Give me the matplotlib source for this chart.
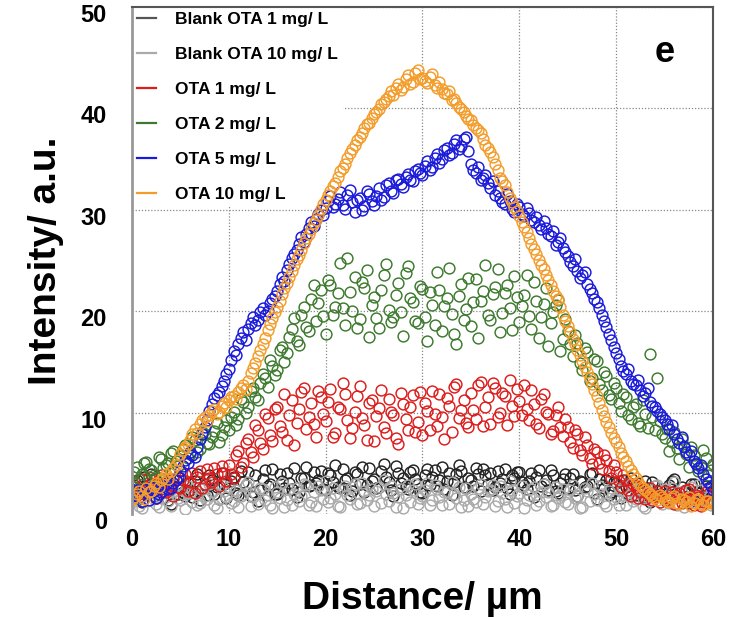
import numpy as np
import matplotlib
matplotlib.use('Agg')
import matplotlib.pyplot as plt
import matplotlib.transforms as mtransforms
from matplotlib.lines import Line2D

plt.rcParams['font.family'] = ['Liberation Sans', 'DejaVu Sans']
plt.rcParams['font.weight'] = 'bold'

# distance along the line profile (um): two interleaved sample sets
distance_a = np.arange(0, 60.5, 0.5)
distance_b = np.arange(0.25, 60, 0.5)

blank_1_a = [
    2.1, 3.4, 1.2, 2.8, 3.9, 1.6, 2.5, 3.1, 1.0, 2.7,
    3.6, 1.8, 2.4, 3.3, 1.4, 2.9, 3.8, 2.0, 1.5, 3.0,
    2.6, 3.7, 1.9, 3.2, 4.1, 2.2, 1.3, 3.5, 2.8, 4.4,
    2.0, 3.3, 4.0, 2.5, 1.7, 3.6, 4.6, 2.9, 3.1, 4.2,
    2.4, 3.8, 4.8, 2.6, 3.4, 1.9, 4.1, 3.0, 2.2, 4.5,
    3.5, 2.7, 4.9, 3.2, 1.8, 4.0, 3.6, 2.5, 4.3, 3.0,
    2.1, 4.4, 3.7, 2.8, 4.6, 3.3, 1.9, 3.9, 4.2, 2.6,
    3.4, 4.5, 2.3, 3.8, 4.0, 2.7, 3.1, 4.4, 2.0, 3.6,
    4.1, 2.9, 3.3, 1.7, 4.3, 3.0, 2.4, 3.8, 2.1, 3.5,
    2.6, 3.9, 1.8, 3.2, 2.8, 4.0, 1.5, 2.9, 3.4, 2.2,
    3.1, 1.6, 2.7, 3.6, 1.9, 2.4, 3.3, 1.2, 2.8, 2.0,
    1.4, 2.9, 3.5, 1.7, 2.3, 1.1, 3.0, 2.1, 1.6, 2.6,
    1.3]
blank_1_b = [
    2.9, 1.5, 3.7, 2.3, 1.8, 3.2, 2.6, 1.4, 3.5, 2.0,
    2.2, 3.1, 1.7, 3.9, 2.5, 1.9, 3.4, 2.7, 4.0, 1.6,
    3.3, 2.1, 4.2, 2.9, 1.8, 3.8, 2.4, 4.3, 3.0, 2.0,
    3.9, 2.6, 3.1, 4.5, 2.2, 3.6, 2.8, 4.1, 3.4, 2.5,
    4.0, 3.2, 2.7, 4.4, 3.6, 2.3, 3.9, 4.6, 2.9, 3.3,
    2.6, 4.2, 3.7, 2.4, 4.7, 3.1, 2.8, 4.1, 3.5, 2.2,
    3.8, 2.9, 4.3, 3.4, 2.5, 4.0, 3.2, 4.8, 2.7, 3.6,
    2.8, 3.9, 4.4, 3.0, 2.4, 4.2, 3.5, 2.6, 3.8, 4.1,
    3.2, 2.5, 4.0, 3.7, 2.8, 3.4, 4.3, 2.3, 3.1, 3.9,
    3.6, 2.4, 3.3, 2.7, 3.9, 2.1, 3.5, 2.6, 1.9, 3.2,
    2.4, 3.4, 2.0, 2.9, 3.1, 1.7, 2.6, 3.2, 1.8, 2.5,
    2.1, 3.3, 1.9, 2.7, 1.5, 3.0, 2.2, 1.4, 2.8, 1.9]

blank_10_a = [
    1.2, 2.4, 0.6, 1.9, 2.8, 1.0, 1.6, 2.2, 0.8, 2.9,
    1.4, 0.5, 2.1, 2.6, 1.1, 1.8, 3.0, 0.9, 1.5, 2.3,
    2.7, 1.3, 0.7, 2.0, 3.2, 1.7, 1.0, 2.5, 1.9, 0.6,
    2.2, 3.1, 1.4, 0.9, 2.6, 1.8, 2.9, 1.2, 0.8, 2.4,
    3.3, 1.6, 2.0, 0.7, 2.8, 1.5, 3.0, 1.1, 2.3, 1.9,
    0.8, 2.7, 3.4, 1.3, 2.1, 1.7, 0.6, 2.9, 2.4, 1.0,
    1.8, 3.1, 1.4, 2.5, 0.9, 2.2, 3.2, 1.6, 0.7, 2.6,
    2.0, 1.2, 3.0, 1.7, 2.4, 0.8, 2.8, 1.5, 3.3, 1.1,
    2.1, 0.6, 1.9, 2.7, 1.3, 3.0, 2.2, 0.9, 1.6, 2.5,
    1.0, 2.9, 1.8, 0.7, 2.3, 3.1, 1.4, 2.0, 0.8, 2.6,
    1.7, 2.4, 0.9, 3.0, 1.5, 2.2, 0.6, 1.9, 2.8, 1.2,
    2.5, 1.1, 3.2, 1.8, 0.7, 2.3, 1.6, 2.9, 1.0, 2.0,
    1.4]
blank_10_b = [
    1.9, 0.8, 2.6, 1.4, 2.1, 0.7, 2.7, 1.3, 2.3, 1.6,
    2.0, 2.8, 1.2, 0.9, 2.5, 1.5, 2.2, 0.6, 2.9, 1.7,
    1.1, 2.4, 1.8, 2.9, 0.8, 2.1, 2.6, 1.4, 0.9, 2.7,
    1.6, 0.7, 2.5, 2.0, 1.3, 3.0, 0.9, 2.2, 2.8, 1.5,
    1.2, 2.6, 0.8, 2.4, 1.9, 2.7, 1.0, 3.1, 1.4, 2.5,
    2.3, 1.1, 2.0, 2.8, 0.7, 2.5, 1.9, 1.2, 3.0, 1.6,
    2.4, 0.9, 2.9, 1.7, 2.2, 1.0, 2.0, 2.7, 1.4, 0.8,
    1.5, 2.6, 1.0, 2.3, 2.9, 1.3, 2.1, 0.7, 2.4, 1.8,
    2.8, 1.4, 2.5, 0.9, 2.2, 1.7, 0.8, 2.7, 1.9, 1.2,
    2.4, 1.6, 0.6, 2.6, 1.3, 2.0, 2.8, 1.1, 2.3, 1.5,
    0.9, 2.7, 1.8, 1.3, 2.5, 0.8, 2.1, 1.6, 2.9, 1.0,
    1.8, 2.6, 0.9, 2.2, 1.4, 2.7, 1.1, 2.4, 1.7, 0.9]

ota_1_a = [
    2.8, 1.9, 3.5, 2.4, 3.1, 1.6, 3.8, 2.2, 2.9, 3.4,
    2.6, 3.9, 3.2, 2.1, 4.2, 3.0, 3.6, 4.5, 2.8, 4.0,
    4.8, 3.6, 6.2, 5.0, 7.4, 5.6, 8.3, 6.4, 9.5, 7.2,
    10.6, 8.1, 7.3, 11.2, 9.0, 12.0, 8.4, 10.9, 7.6, 11.5,
    9.2, 12.3, 8.0, 10.4, 11.8, 7.5, 10.1, 12.6, 8.8, 10.9,
    7.2, 10.5, 8.6, 11.3, 9.8, 6.9, 10.8, 8.3, 11.7, 9.1,
    7.8, 10.2, 12.1, 8.7, 9.6, 11.4, 8.1, 12.8, 10.3, 9.0,
    11.9, 9.4, 13.0, 10.6, 8.9, 12.4, 10.0, 11.6, 13.2, 9.7,
    11.1, 12.7, 9.3, 10.8, 8.5, 11.8, 9.9, 8.2, 10.6, 7.7,
    8.6, 6.5, 7.9, 5.8, 6.8, 4.9, 6.1, 4.4, 5.3, 3.6,
    4.1, 2.7, 3.4, 1.8, 2.9, 2.2, 1.5, 2.6, 1.9, 1.2,
    2.3, 1.6, 1.0, 2.1, 1.4, 2.5, 0.9, 1.7, 1.2, 2.0,
    1.1]
ota_1_b = [
    3.3, 2.5, 2.0, 3.7, 2.6, 3.0, 2.3, 3.5, 1.8, 2.7,
    3.4, 2.3, 4.0, 3.7, 2.6, 4.4, 3.2, 3.9, 4.7, 3.3,
    3.9, 5.8, 4.6, 7.0, 6.1, 8.8, 7.0, 9.9, 7.8, 10.4,
    8.7, 11.8, 9.8, 6.8, 10.4, 12.4, 9.6, 8.9, 12.1, 9.9,
    11.0, 7.6, 10.6, 12.9, 9.3, 8.5, 11.6, 9.5, 7.3, 11.2,
    9.7, 12.2, 8.0, 10.1, 7.5, 11.9, 9.4, 10.6, 8.1, 12.0,
    10.9, 8.3, 9.9, 11.8, 7.4, 10.7, 12.5, 9.5, 11.2, 8.6,
    10.3, 12.7, 8.7, 11.5, 12.9, 9.6, 11.9, 8.8, 10.7, 12.3,
    9.8, 10.4, 12.2, 8.9, 11.3, 10.1, 7.9, 9.8, 8.6, 9.4,
    7.1, 8.3, 6.3, 7.6, 5.5, 6.4, 5.0, 5.8, 4.2, 4.8,
    3.3, 3.8, 2.4, 3.0, 1.6, 2.5, 2.0, 1.4, 2.3, 1.7,
    1.3, 2.2, 1.8, 1.1, 2.4, 1.5, 1.9, 0.8, 2.2, 1.4]

ota_2_a = [
    3.2, 4.6, 3.9, 5.1, 4.3, 3.6, 5.4, 4.8, 6.0, 5.2,
    5.7, 6.8, 5.9, 7.3, 6.4, 7.9, 6.9, 8.2, 7.1, 8.6,
    8.3, 10.1, 9.4, 11.0, 10.6, 12.4, 11.2, 13.8, 12.5, 14.6,
    14.2, 16.5, 15.9, 18.2, 17.1, 19.6, 18.4, 21.2, 19.0, 22.1,
    17.8, 22.6, 20.4, 24.8, 18.6, 21.9, 23.4, 19.2, 22.3, 17.5,
    21.4, 18.3, 23.6, 20.1, 19.4, 22.8, 17.6, 24.5, 20.9, 18.8,
    22.2, 17.1, 20.6, 23.9, 18.0, 21.3, 19.7, 16.8, 22.7, 20.2,
    18.5, 23.2, 21.0, 24.6, 19.1, 22.4, 17.9, 21.8, 20.3, 23.5,
    18.9, 21.6, 19.5, 22.9, 17.4, 20.7, 16.6, 19.9, 21.1, 17.3,
    18.0, 15.6, 16.9, 14.2, 16.0, 13.4, 15.1, 12.2, 13.6, 11.3,
    12.4, 10.2, 11.5, 9.4, 10.8, 8.7, 9.9, 15.8, 8.3, 9.2,
    7.5, 6.2, 8.1, 5.4, 6.7, 4.6, 5.8, 4.2, 6.3, 3.8,
    4.9]
ota_2_b = [
    4.1, 3.5, 5.0, 4.4, 3.8, 5.6, 4.5, 5.0, 6.2, 4.7,
    6.4, 5.5, 7.6, 6.1, 8.1, 7.0, 7.6, 9.0, 7.8, 9.3,
    9.6, 8.8, 11.3, 10.0, 12.1, 11.5, 12.9, 13.4, 15.2, 13.7,
    16.2, 15.0, 17.5, 19.3, 16.7, 20.4, 18.0, 22.6, 20.8, 19.5,
    23.1, 19.6, 21.8, 20.3, 25.2, 20.0, 18.3, 22.9, 24.1, 20.6,
    19.3, 22.1, 24.7, 18.9, 21.6, 19.9, 23.8, 21.3, 19.0, 22.5,
    19.4, 21.9, 18.6, 22.1, 20.5, 24.3, 17.8, 21.5, 19.1, 23.3,
    20.9, 17.4, 22.0, 19.6, 21.7, 24.2, 19.8, 22.6, 18.1, 21.4,
    20.5, 23.6, 18.2, 21.0, 19.4, 22.3, 18.8, 20.6, 16.1, 19.2,
    16.8, 17.7, 14.9, 16.4, 13.1, 15.3, 12.8, 14.0, 11.7, 12.9,
    10.9, 11.8, 9.8, 10.6, 9.0, 11.2, 8.5, 9.6, 13.4, 7.9,
    8.4, 7.1, 6.5, 7.4, 5.9, 6.6, 5.0, 4.6, 5.5, 4.3]

ota_5_a = [
    1.8, 2.4, 1.3, 2.1, 2.7, 1.6, 2.2, 3.0, 2.6, 3.4,
    4.2, 5.3, 6.1, 5.6, 7.4, 8.6, 10.2, 11.4, 12.0, 13.1,
    14.3, 16.1, 16.8, 17.9, 18.2, 19.4, 19.1, 20.3, 20.0, 21.2,
    22.0, 23.4, 24.1, 25.2, 26.0, 27.3, 27.6, 28.8, 29.1, 30.0,
    30.2, 31.4, 30.6, 31.8, 30.1, 32.0, 29.8, 31.2, 30.4, 31.6,
    30.5, 32.1, 31.3, 32.6, 31.7, 33.0, 32.2, 33.5, 32.8, 34.0,
    33.4, 34.8, 34.2, 35.5, 35.0, 36.1, 35.6, 36.9, 36.3, 37.2,
    34.5, 33.6, 32.9, 33.4, 32.1, 31.5, 31.2, 30.6, 30.9, 29.8,
    30.3, 29.4, 29.7, 28.8, 28.5, 28.9, 27.6, 27.9, 26.8, 26.2,
    25.4, 24.5, 24.0, 23.6, 22.7, 21.8, 20.9, 19.6, 18.4, 17.2,
    15.9, 14.6, 13.8, 13.1, 12.7, 12.2, 11.9, 11.0, 10.6, 9.9,
    9.3, 8.4, 7.9, 7.0, 6.6, 5.8, 5.2, 4.5, 3.9, 3.2,
    2.4]
ota_5_b = [
    2.1, 1.7, 2.5, 1.4, 2.3, 2.0, 2.8, 2.5, 3.1, 3.7,
    4.7, 5.0, 5.8, 6.6, 7.9, 9.3, 10.8, 11.7, 12.6, 13.8,
    15.2, 15.7, 17.4, 17.2, 18.8, 18.6, 19.9, 19.6, 20.8, 21.5,
    22.7, 23.0, 24.7, 25.6, 26.6, 26.8, 28.2, 28.4, 29.6, 29.5,
    30.9, 30.3, 31.1, 30.5, 31.5, 30.8, 31.0, 30.0, 31.9, 30.9,
    31.4, 31.0, 32.4, 31.9, 32.9, 32.5, 33.2, 32.9, 33.8, 33.6,
    34.3, 33.9, 35.1, 34.6, 35.9, 35.4, 36.5, 36.0, 37.0, 35.8,
    33.9, 34.2, 33.1, 32.6, 32.8, 31.9, 30.8, 31.6, 30.1, 30.6,
    29.6, 30.2, 29.0, 29.3, 28.1, 28.2, 27.4, 26.5, 27.2, 25.8,
    24.9, 25.1, 23.3, 23.9, 22.2, 21.2, 20.3, 19.0, 17.8, 16.5,
    15.3, 14.1, 14.3, 12.8, 13.2, 11.6, 12.4, 10.7, 10.2, 9.6,
    8.9, 8.8, 7.4, 7.6, 6.1, 6.2, 4.9, 4.8, 3.5, 2.8]

ota_10_a = [
    1.4, 2.0, 1.8, 2.6, 2.3, 3.1, 3.4, 3.9, 4.2, 4.8,
    5.9, 6.6, 7.3, 8.4, 8.9, 9.6, 9.8, 10.4, 10.1, 10.9,
    11.2, 11.6, 12.0, 12.7, 13.1, 14.4, 15.6, 16.8, 18.1, 19.3,
    20.4, 21.7, 22.8, 24.0, 25.1, 26.0, 27.2, 28.1, 29.0, 30.1,
    31.0, 31.9, 32.6, 33.8, 34.5, 35.6, 36.4, 37.2, 38.1, 38.6,
    39.4, 39.9, 40.6, 41.2, 41.3, 42.4, 42.1, 43.3, 42.6, 43.8,
    43.0, 42.5, 43.4, 42.0, 41.9, 41.4, 40.8, 40.5, 39.9, 39.2,
    38.9, 38.1, 37.6, 36.4, 35.7, 34.5, 33.1, 32.4, 31.2, 30.3,
    29.4, 28.3, 27.2, 26.1, 25.0, 24.2, 23.1, 22.0, 21.2, 19.6,
    18.5, 17.3, 16.2, 15.1, 14.0, 12.8, 11.6, 10.3, 9.1, 8.0,
    7.1, 6.0, 5.2, 4.3, 3.6, 2.9, 2.4, 2.0, 1.6, 1.9,
    1.5, 1.2, 1.8, 1.0, 1.4, 1.7, 1.1, 1.5, 0.9, 1.3,
    1.2]
ota_10_b = [
    1.7, 2.3, 1.5, 2.2, 2.8, 2.7, 3.6, 3.5, 4.5, 5.3,
    6.3, 6.9, 7.9, 8.0, 9.3, 9.2, 10.2, 9.9, 10.7, 10.6,
    11.5, 11.3, 12.4, 12.3, 13.9, 14.9, 16.2, 17.4, 18.7, 19.9,
    21.0, 22.3, 23.4, 24.6, 25.5, 26.7, 27.6, 28.7, 29.5, 30.6,
    31.5, 32.3, 33.2, 34.1, 35.1, 36.0, 36.9, 37.6, 38.5, 39.1,
    39.6, 40.4, 40.9, 41.7, 42.0, 41.8, 42.9, 42.4, 43.5, 42.9,
    42.7, 43.1, 42.3, 42.6, 41.5, 41.7, 40.9, 40.1, 39.6, 39.0,
    38.4, 37.9, 37.0, 36.1, 35.2, 33.9, 32.8, 31.8, 30.8, 29.9,
    28.8, 27.8, 26.6, 25.6, 24.6, 23.6, 22.6, 21.5, 20.4, 19.0,
    17.9, 16.8, 15.7, 14.5, 13.4, 12.2, 10.9, 9.7, 8.6, 7.5,
    6.6, 5.6, 4.7, 3.9, 3.2, 2.6, 2.2, 1.8, 1.4, 1.7,
    1.3, 1.6, 1.1, 1.5, 1.2, 0.8, 1.4, 1.0, 1.3, 1.1]

labels = ['Blank OTA 1 mg/ L', 'Blank OTA 10 mg/ L', 'OTA 1 mg/ L',
          'OTA 2 mg/ L', 'OTA 5 mg/ L', 'OTA 10 mg/ L']
series = [(blank_1_a, blank_1_b), (blank_10_a, blank_10_b), (ota_1_a, ota_1_b),
          (ota_2_a, ota_2_b), (ota_5_a, ota_5_b), (ota_10_a, ota_10_b)]
colors = ['#222222', '#aaaaaa', '#dd1c1c', '#3d7a2e', '#1a1adb', '#f39c2a']
handle_colors = ['#555555', '#aaaaaa', '#dd1c1c', '#3d7a2e', '#1a1adb', '#f39c2a']

fig = plt.figure(figsize=(7.34, 6.17), dpi=100)
ax = fig.add_axes([0.1798, 0.1669, 0.7916, 0.8218])

for (ya, yb), c in zip(series, colors):
    x = np.concatenate([distance_a, distance_b])
    y = np.concatenate([ya, yb])
    ax.plot(x, y, 'o', mfc='none', mec=c, ms=7.8, mew=1.05, zorder=3)

ax.set_xlim(0, 60)
ax.set_ylim(0, 50)
ax.set_xticks(np.arange(0, 61, 10))
ax.set_yticks(np.arange(0, 51, 10))
ax.tick_params(length=0, labelsize=17)
ax.tick_params(axis='x', pad=10)
ax.tick_params(axis='y', pad=18)
ax.grid(True, color='#888888', linestyle=(0, (1, 1.5)), linewidth=0.9)
ax.set_axisbelow(True)

# y tick labels sit a little below their grid lines in the original
shift = mtransforms.ScaledTranslation(0, -0.06, fig.dpi_scale_trans)
for lab in ax.get_yticklabels():
    lab.set_transform(lab.get_transform() + shift)

ax.spines['bottom'].set_visible(False)
ax.spines['left'].set_color('#999999')
ax.spines['left'].set_linewidth(2)
for s in ['top', 'right']:
    ax.spines[s].set_color('#555555')
    ax.spines[s].set_linewidth(1.5)
for s in ax.spines.values():
    s.set_zorder(6)

ax.set_xlabel('Distance/ µm', fontsize=28, fontweight='bold', labelpad=22)
ax.set_ylabel('Intensity/ a.u.', fontsize=28, fontweight='bold', labelpad=12)

ax.text(0.917, 0.91, 'e', transform=ax.transAxes, fontsize=26,
        fontweight='bold', ha='center', va='center')

handles = [Line2D([0], [0], color=c, lw=1.6) for c in handle_colors]
leg = ax.legend(handles, labels, loc='upper left', bbox_to_anchor=(0.0, 1.0),
                borderaxespad=0, borderpad=0.3, handlelength=1.1,
                handletextpad=1.1, labelspacing=1.14, frameon=True,
                prop={'size': 12.5, 'weight': 'bold'})
leg.get_frame().set_facecolor('white')
leg.get_frame().set_edgecolor('none')
leg.get_frame().set_alpha(1)
# keep the white legend box above the grid but under the data points
leg.set_zorder(2)

fig.savefig('out.png', dpi=100)
